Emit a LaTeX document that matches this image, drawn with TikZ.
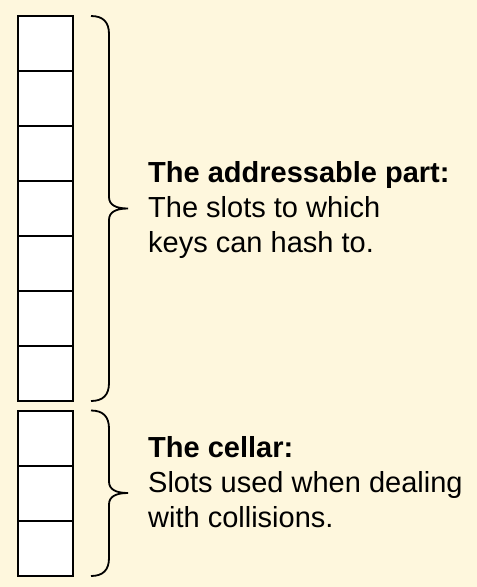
\documentclass[tikz,border=0pt]{standalone}
\usepackage{fontspec}
\setmainfont{Liberation Sans}
\definecolor{cream}{RGB}{254,247,221}
\begin{document}
\begin{tikzpicture}[x=1pt,y=-1pt,
  slot/.style={draw=black,fill=white,line width=1.6pt,minimum width=55pt,minimum height=55pt,inner sep=0pt,outer sep=0pt},
  bracepath/.style={draw=black,line width=1.8pt},
  lbl/.style={anchor=base west,inner sep=0pt,font=\fontsize{29}{35}\selectfont}]
\fill[cream] (0,0) rectangle (477,587);
\useasboundingbox (0,0) rectangle (477,587);
% addressable slots
\foreach \i in {0,...,6}{
  \node[slot] (a\i) at (45.5,{43.5+55*\i}) {};
}
% cellar slots
\foreach \i in {0,...,2}{
  \node[slot] (c\i) at (45.5,{438.5+55*\i}) {};
}
% brace for addressable part
\coordinate (bt) at (91,16);
\coordinate (bm) at (128,208.5);
\coordinate (bb) at (91,401);
\draw[bracepath] (bt) .. controls (103,16) and (109,22) .. (109,34)
  -- (109,197) .. controls (109,205) and (116,208.5) .. (bm)
  .. controls (116,208.5) and (109,212) .. (109,220)
  -- (109,383) .. controls (109,395) and (103,401) .. (bb);
% brace for cellar
\coordinate (ct) at (91,410.5);
\coordinate (cm) at (128,493);
\coordinate (cb) at (91,576);
\draw[bracepath] (ct) .. controls (103,410.5) and (109,416.5) .. (109,428.5)
  -- (109,481.5) .. controls (109,489.5) and (116,493) .. (cm)
  .. controls (116,493) and (109,496.5) .. (109,504.5)
  -- (109,558) .. controls (109,570) and (103,576) .. (cb);
% labels
\node[lbl] (t1) at (148,182) {\bfseries The addressable part:};
\node[lbl] (t2) at (148,217.5) {The slots to which};
\node[lbl] (t3) at (148,252.5) {keys can hash to.};
\node[lbl] (u1) at (148,457) {\bfseries The cellar:};
\node[lbl] (u2) at (148,492.5) {Slots used when dealing};
\node[lbl] (u3) at (148,527) {with collisions.};
\end{tikzpicture}
\end{document}
